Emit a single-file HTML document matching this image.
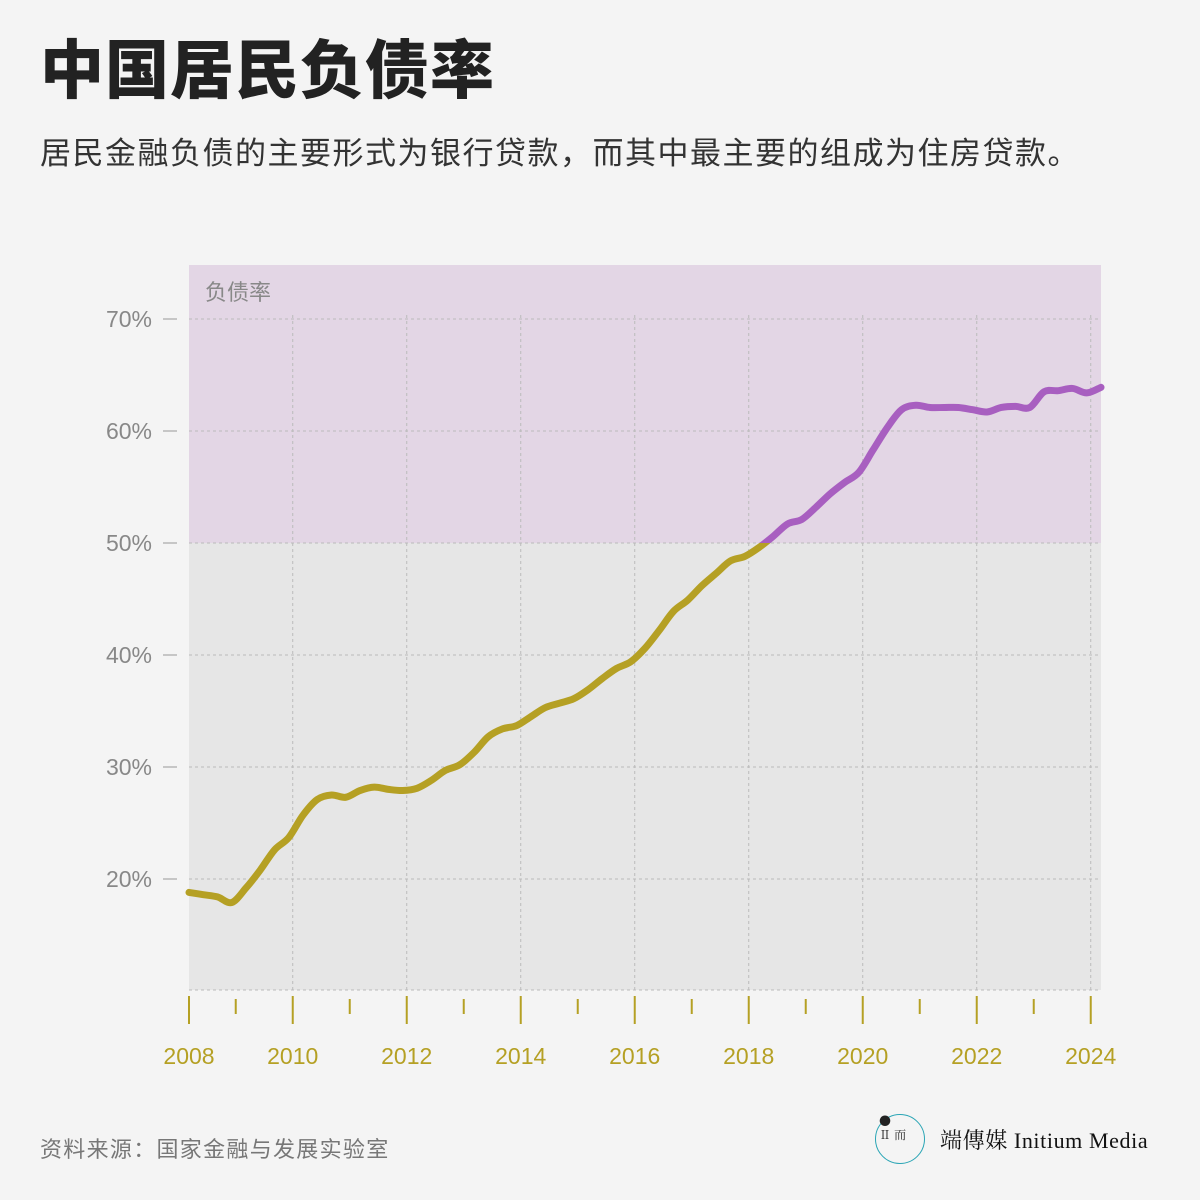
<!DOCTYPE html>
<html><head><meta charset="utf-8"><style>
body{margin:0;background:#f4f4f4;}
#wrap{position:relative;width:1200px;height:1200px;background:#f4f4f4;font-family:"Liberation Sans","Noto Sans CJK SC",sans-serif;overflow:hidden}
h1{position:absolute;left:40px;top:20px;margin:0;font-size:64px;font-weight:900;color:#222;letter-spacing:1px}
.sub{position:absolute;left:40px;top:128px;font-size:31px;letter-spacing:1.5px;color:#333;white-space:nowrap}
.src{position:absolute;left:40px;top:1132px;font-size:22px;letter-spacing:1.3px;color:#777}
</style></head><body>
<div id="wrap">
<h1>中国居民负债率</h1>
<div class="sub">居民金融负债的主要形式为银行贷款，而其中最主要的组成为住房贷款。</div>
<svg id="chart" width="1200" height="1200" style="position:absolute;left:0;top:0"></svg>
<div class="src">资料来源：国家金融与发展实验室</div>
<div style="position:absolute;left:875px;top:1114px;width:48px;height:48px;border:1.5px solid #2aa5b5;border-radius:50%;"></div>
<div style="position:absolute;left:879px;top:1114px;font-size:12px;line-height:14px;color:#222;font-family:'Noto Serif CJK SC',serif">●<br>Ⅱ 而</div>
<div style="position:absolute;left:940px;top:1124px;font-size:22px;letter-spacing:0.6px;color:#111;font-family:'Liberation Serif','Noto Serif CJK SC',serif">端傳媒 Initium Media</div>
</div>
<script>
const values=[18.8,18.6,18.4,17.9,19.2,20.8,22.6,23.7,25.7,27.1,27.5,27.3,27.9,28.2,28.0,27.9,28.1,28.8,29.7,30.2,31.3,32.7,33.4,33.7,34.5,35.3,35.7,36.1,36.9,37.9,38.8,39.4,40.6,42.2,43.9,44.9,46.2,47.3,48.4,48.8,49.6,50.6,51.7,52.1,53.2,54.4,55.4,56.3,58.3,60.3,61.9,62.3,62.1,62.1,62.1,61.9,61.7,62.1,62.2,62.1,63.5,63.6,63.8,63.4,63.9];
const startYear=2008.18;
const yTicks=[20,30,40,50,60,70];
const xLabels=[2008,2010,2012,2014,2016,2018,2020,2022,2024];
const threshold=50;
const NS="http://www.w3.org/2000/svg";
const svg=document.getElementById('chart');
const L=189,R=1101,T=265,B=990;
const pxPerYear=(R-L)/((values.length-1)*0.25);
const xs=t=>L+(t-startYear)*pxPerYear;
const ys=v=>319+(70-v)*11.2;
function el(tag,attrs,parent){const e=document.createElementNS(NS,tag);for(const k in attrs)e.setAttribute(k,attrs[k]);(parent||svg).appendChild(e);return e;}
let r=el('rect',{x:L,y:T,width:R-L,height:ys(threshold)-T,fill:'#e3d6e5'});


r=el('rect',{x:L,y:ys(threshold),width:R-L,height:B-ys(threshold),fill:'#e6e6e6'});


let zl=el('text',{x:205,y:300,'font-size':22,fill:'#888'});zl.textContent='负债率';


yTicks.forEach(v=>{
 const y=ys(v);
 const g=el('line',{x1:L,x2:R,y1:y,y2:y,stroke:'#bbb','stroke-dasharray':'3 3'});
 
 
 el('line',{x1:163,x2:177,y1:y,y2:y,stroke:'#999'});
 const t=el('text',{x:152,y:y+8,'font-size':23,fill:'#888','text-anchor':'end'});t.textContent=v+'%';
 
 
});
el('line',{x1:L,x2:R,y1:B,y2:B,stroke:'#bbb','stroke-dasharray':'3 3'});
for(let yr=2009;yr<=2024;yr++){
 const x=xs(yr);
 const g=el('line',{x1:x,x2:x,y1:T+50,y2:B,stroke:'#bbb','stroke-dasharray':'3 3'});
 if(yr%2==1){g.setAttribute('stroke','none');}
 
 
 const tk=el('line',{x1:x,x2:x,y1:yr%2?999:996,y2:yr%2?1014:1024,stroke:'#b5a024','stroke-width':2});
 
 
}
el('line',{x1:L,x2:L,y1:996,y2:1024,stroke:'#b5a024','stroke-width':2});
xLabels.forEach((yr,i)=>{
 const x=i==0?L:xs(yr);
 const t=el('text',{x:x,y:1064,'font-size':23,fill:'#b5a024','text-anchor':'middle'});t.textContent=yr;
 
 
});
const pts=values.map((v,i)=>[xs(startYear+i*0.25),ys(v)]);
let d='M'+pts[0][0]+','+pts[0][1];
for(let i=0;i<pts.length-1;i++){
 const p0=pts[Math.max(0,i-1)],p1=pts[i],p2=pts[i+1],p3=pts[Math.min(pts.length-1,i+2)];
 d+=' C'+(p1[0]+(p2[0]-p0[0])/6)+','+(p1[1]+(p2[1]-p0[1])/6)+' '+(p2[0]-(p3[0]-p1[0])/6)+','+(p2[1]-(p3[1]-p1[1])/6)+' '+p2[0]+','+p2[1];
}
const defs=el('defs',{});
const c1=el('clipPath',{id:'above'},defs);el('rect',{x:0,y:0,width:1200,height:ys(threshold)},c1);
const c2=el('clipPath',{id:'below'},defs);el('rect',{x:0,y:ys(threshold),width:1200,height:1200},c2);
let p=el('path',{d:d,fill:'none',stroke:'#b5a024','stroke-width':7,'stroke-linecap':'round','clip-path':'url(#below)'});


p=el('path',{d:d,fill:'none',stroke:'#a85fc0','stroke-width':7,'stroke-linecap':'round','clip-path':'url(#above)'});


</script>
</body></html>
